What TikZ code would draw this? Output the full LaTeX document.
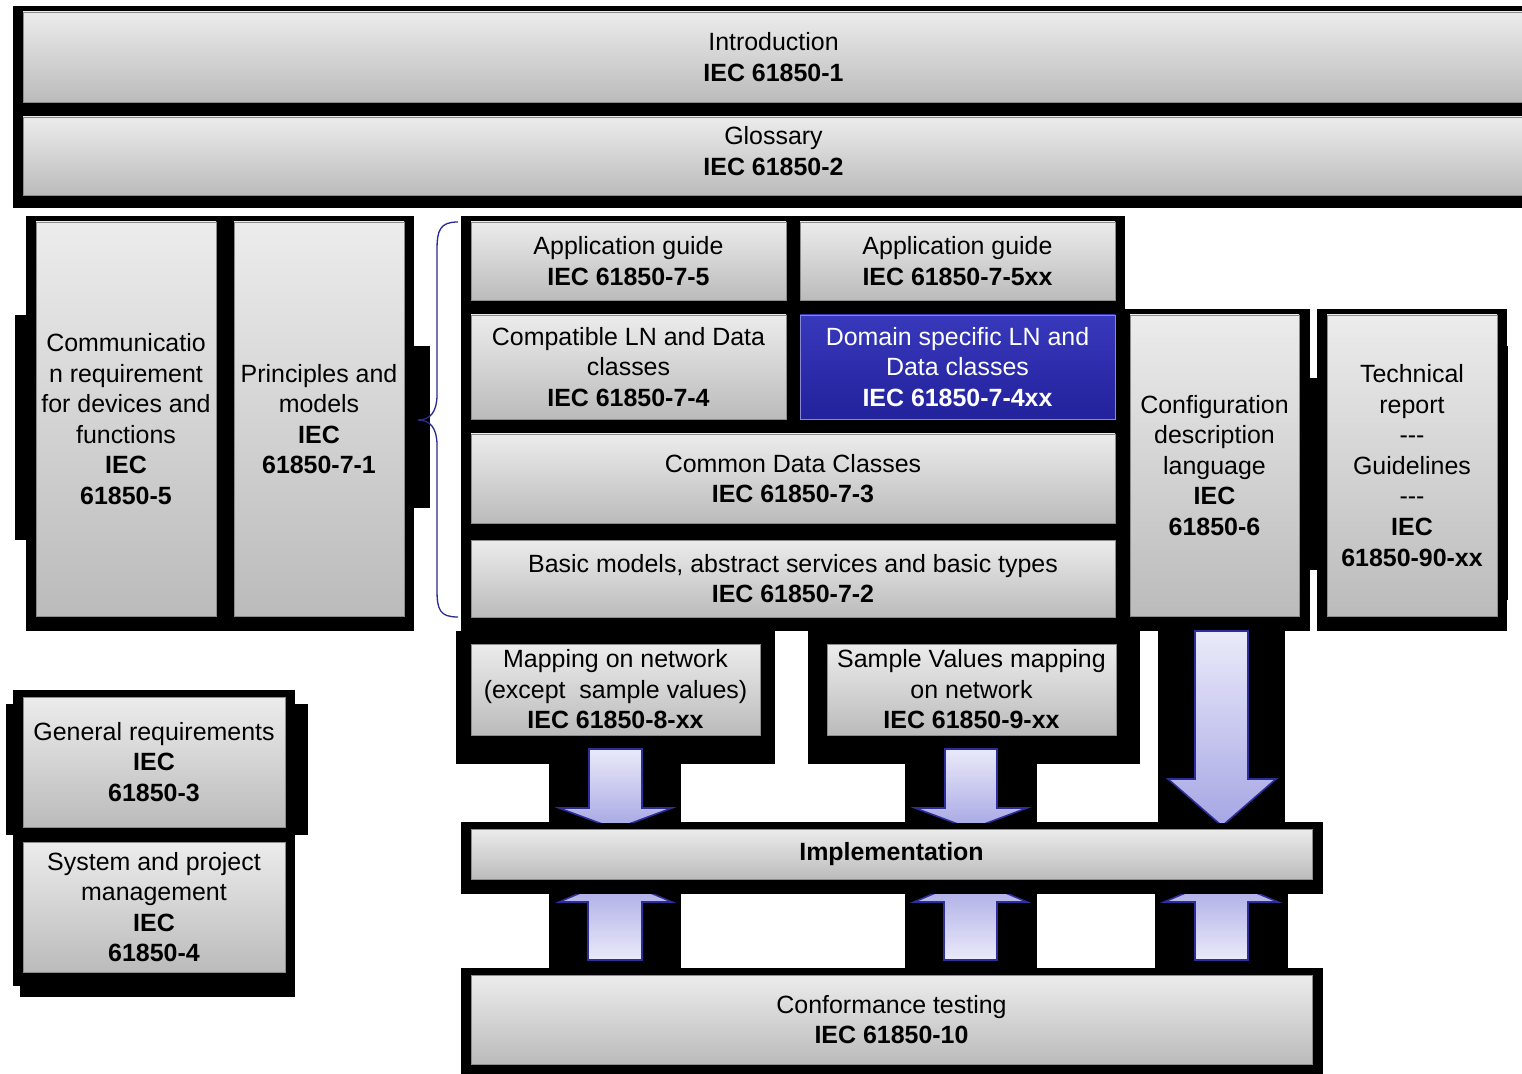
\documentclass[tikz,border=0pt]{standalone}
\usepackage{fontspec}
\setmainfont{Liberation Sans}
\definecolor{partTop}{HTML}{ECECEC}
\definecolor{partBot}{HTML}{BBBBBB}
\definecolor{partLine}{HTML}{8C8C8C}
\definecolor{domTop}{HTML}{3838BC}
\definecolor{domBot}{HTML}{22229C}
\definecolor{arrTop}{HTML}{EAEAFA}
\definecolor{arrBot}{HTML}{A6A6E4}
\definecolor{arrLine}{HTML}{2E2E9A}
\definecolor{braceBlue}{HTML}{2A2A90}
\tikzset{
  part/.style={draw=partLine, line width=0.5pt, top color=partTop, bottom color=partBot,
    inner sep=0pt, align=center, font=\fontsize{14.2}{17.4}\selectfont},
  dompart/.style={part, draw=domTop!60!white, top color=domTop, bottom color=domBot, text=white},
  size/.style 2 args={minimum width=#1*0.02cm, minimum height=#2*0.02cm},
  downarrow/.style={draw=arrLine, line width=0.9pt, top color=arrTop, bottom color=arrBot},
  uparrow/.style={draw=arrLine, line width=0.9pt, top color=arrBot, bottom color=arrTop}
}
\begin{document}
\begin{tikzpicture}[x=0.02cm,y=-0.02cm]
  \useasboundingbox (0,0) rectangle (1522,1074);
  \clip (0,0) rectangle (1522,1074);
  % black shadows
  \foreach \xa/\ya/\xb/\yb in {13/6/1530/208, 26/216/414/631, 15/315/30/540, 404/346/430/508,
      461/216/1125/631, 1125/309/1310/631, 1305/378/1317/570, 1317/309/1507/631, 1500/346/1508/600,
      456/631/775/764, 808/631/1140/764, 549/764/681/822, 905/764/1037/822, 1158/631/1285/822,
      461/822/1323/894, 549/894/681/968, 905/894/1037/968, 1155/894/1288/968, 461/968/1323/1080,
      13/690/295/835, 6/704/308/835, 13/835/295/986, 20/986/295/997}
    \fill[black] (\xa,\ya) rectangle (\xb,\yb);
  % arrows
  \begin{scope}
    \clip (0,0) rectangle (1522,822);
    \foreach \xa/\xb/\ha/\hb in {589/642/559/672, 945/997/915/1027}
      \path[downarrow] (\xa,749) -- (\xb,749) -- (\xb,808) -- (\hb,808) -- ({(\ha+\hb)/2},829)
        -- (\ha,808) -- (\xa,808) -- cycle;
    \path[downarrow] (1195,631) -- (1248,631) -- (1248,779) -- (1276,779) -- (1222,826)
      -- (1168,779) -- (1195,779) -- cycle;
  \end{scope}
  \begin{scope}
    \clip (0,894) rectangle (1522,1074);
    \foreach \xa/\xb/\ha/\hb in {588/642/559/672, 944/997/914/1027, 1195/1248/1164/1278}
      \path[uparrow] (\xa,960) -- (\xb,960) -- (\xb,902) -- (\hb,902) -- ({(\ha+\hb)/2},878)
        -- (\ha,902) -- (\xa,902) -- cycle;
  \end{scope}
  % parts
  \node[part, size={1501}{90}] (intro) at (773.5,57) {Introduction\\\textbf{IEC 61850-1}};
  \node[part, size={1501}{78}] (gloss) at (773.5,156) {};
  \node[font=\fontsize{14.2}{17.4}\selectfont, align=center, inner sep=0pt] (glosstxt) at (773.5,151) {Glossary\\\textbf{IEC 61850-2}};
  \node[part, size={180}{394}] (comm) at (126,419) {Communicatio\\n requirement\\for devices and\\functions\\\textbf{IEC}\\\textbf{61850-5}};
  \node[part, size={170}{394}] (princ) at (319,419) {Principles and\\models\\\textbf{IEC}\\\textbf{61850-7-1}};
  \node[part, size={315}{78}] (ag75) at (628.5,261) {Application guide\\\textbf{IEC 61850-7-5}};
  \node[part, size={315}{78}] (ag75xx) at (957.5,261) {Application guide\\\textbf{IEC 61850-7-5xx}};
  \node[part, size={315}{104}] (compat) at (628.5,367) {Compatible LN and Data\\classes\\\textbf{IEC 61850-7-4}};
  \node[dompart, size={315}{104}] (dom) at (957.5,367) {Domain specific LN and\\Data classes\\\textbf{IEC 61850-7-4xx}};
  \node[part, size={644}{89}] (cdc) at (793,478.5) {Common Data Classes\\\textbf{IEC 61850-7-3}};
  \node[part, size={644}{77}] (basic) at (793,578.5) {Basic models, abstract services and basic types\\\textbf{IEC 61850-7-2}};
  \node[part, size={169}{301}] (scl) at (1214.5,465.5) {Configuration\\description\\language\\\textbf{IEC}\\\textbf{61850-6}};
  \node[part, size={170}{301}] (tr) at (1412,465.5) {Technical\\report\\{-}{-}{-}\\Guidelines\\{-}{-}{-}\\\textbf{IEC}\\\textbf{61850-90-xx}};
  \node[part, size={289}{91}] (map8) at (615.5,689.5) {Mapping on network\\(except\ \ sample values)\\\textbf{IEC 61850-8-xx}};
  \node[part, size={289}{91}] (map9) at (971.5,689.5) {Sample Values mapping\\on network\\\textbf{IEC 61850-9-xx}};
  \node[part, size={841}{50}] (impl) at (891.5,854) {\textbf{Implementation}};
  \node[part, size={841}{89}] (conf) at (891.5,1019.5) {Conformance testing\\\textbf{IEC 61850-10}};
  \node[part, size={262}{130}] (genreq) at (154,762) {General requirements\\\textbf{IEC}\\\textbf{61850-3}};
  \node[part, size={262}{130}] (sysprj) at (154,907) {System and project\\management\\\textbf{IEC}\\\textbf{61850-4}};
  % brace
  \draw[braceBlue, line width=0.75pt] (458,222) .. controls (440,222) and (437,230) .. (437,250)
    -- (437,395) .. controls (437,412) and (430,420) .. (418,420)
    .. controls (430,420) and (437,428) .. (437,445) -- (437,590)
    .. controls (437,610) and (440,617) .. (458,617);
\end{tikzpicture}
\end{document}
